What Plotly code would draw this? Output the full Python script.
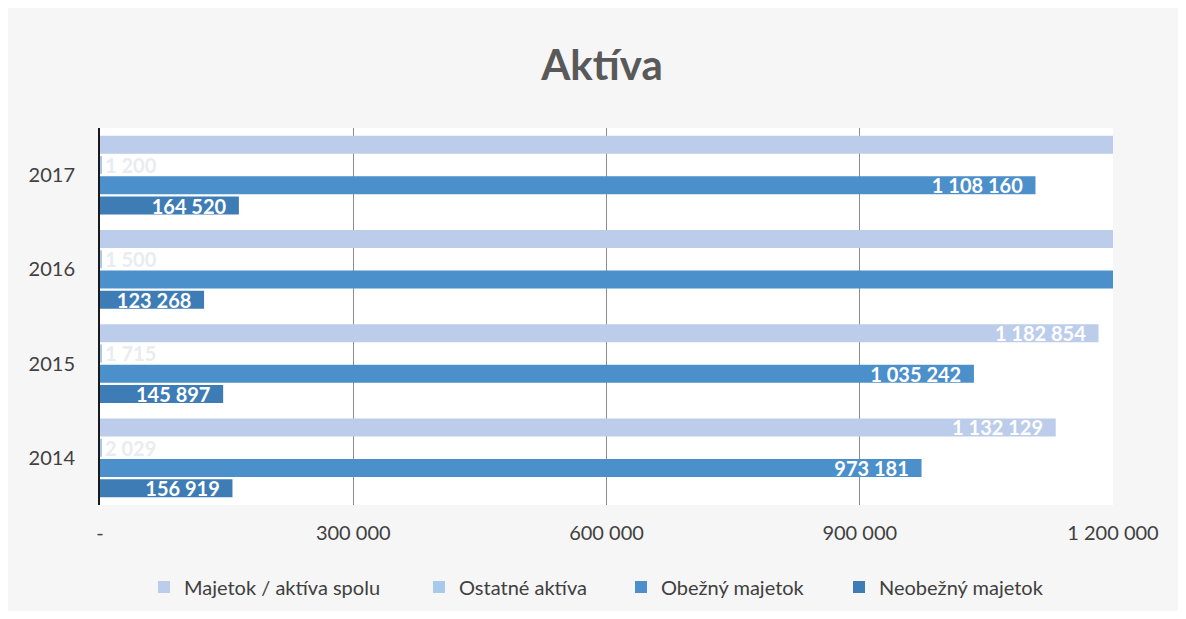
import plotly.graph_objects as go

years = ["2014", "2015", "2016", "2017"]
neobezny = [156919, 145897, 123268, 164520]
obezny = [973181, 1035242, 1235000, 1108160]
ostatne = [2029, 1715, 1500, 1200]
spolu = [1132129, 1182854, 1359768, 1273880]

x_ticks = [0, 300000, 600000, 900000, 1200000]
x_ticktext = ["-", "300 000", "600 000", "900 000", "1 200 000"]
x_max = 1200000

FONT = "Lato, 'Open Sans', sans-serif"
W, H = 1170, 603  # page has an 8px body margin


def fmt(v, pad):
    # label hidden when the bar runs past the axis end (as in the original)
    if v > x_max:
        return ""
    return f"{v:,}".replace(",", " ") + ("\u00a0\u00a0" if pad else "")


fig = go.Figure()

# (name, values, colour, text position, text colour, legend id, legend text left px)
series = [
    ("Neobežný majetok", neobezny, "#3e7cb6", "inside", "white", "legend4", 877),
    ("Obežný majetok", obezny, "#4b8fcb", "inside", "white", "legend3", 659),
    ("Ostatné aktíva", ostatne, "#a9c9ea", "outside", "#e9ecf0", "legend2", 457),
    ("Majetok / aktíva spolu", spolu, "#bccdeb", "inside", "white", "legend", 182),
]

legend_layouts = {}
for name, vals, color, tpos, tcol, leg, lx in series:
    fig.add_trace(go.Bar(
        y=years, x=vals, name=name, orientation="h",
        marker=dict(color=color, line=dict(width=0)),
        text=[fmt(v, tpos == "inside") for v in vals], textposition=tpos,
        insidetextanchor="end",
        textfont=dict(family=FONT, size=20, color=tcol, weight="bold"),
        outsidetextfont=dict(family=FONT, size=20, color=tcol, weight="bold"),
        constraintext="none", cliponaxis=True, legend=leg,
    ))
    legend_layouts[leg] = dict(
        xref="container", yref="container",
        x=(lx - 38 - 8) / W, xanchor="left",
        y=(611 - 587) / H, yanchor="middle",
        orientation="h", font=dict(family=FONT, size=20, color="#404040"),
        bgcolor="rgba(0,0,0,0)", borderwidth=0,
    )

fig.update_layout(
    width=W, height=H,
    barmode="group", bargap=0.14, bargroupgap=0.12,
    paper_bgcolor="#f6f6f6", plot_bgcolor="#ffffff",
    margin=dict(l=92, r=65, t=120, b=106, autoexpand=False),
    title=dict(text="<b>Aktíva</b>", xref="container", yref="container",
               x=(602 - 8) / W, xanchor="center", y=1 - (65 - 8) / H, yanchor="middle",
               font=dict(family=FONT, size=42, color="#595959")),
    font=dict(family=FONT, size=20, color="#404040"),
    showlegend=True,
    **legend_layouts,
)

fig.update_xaxes(range=[0, x_max], tickvals=x_ticks, ticktext=x_ticktext,
                 showgrid=True, gridcolor="#8c8c8c", gridwidth=1, zeroline=False,
                 showline=False, ticks="", ticklabelstandoff=14, automargin=False,
                 tickfont=dict(size=20, color="#404040"))
fig.update_yaxes(showline=True, linecolor="#1a1a1a", linewidth=2, ticks="",
                 ticklabelstandoff=19, showgrid=False, automargin=False,
                 tickfont=dict(size=20, color="#404040"))

fig.write_html("out.html")
